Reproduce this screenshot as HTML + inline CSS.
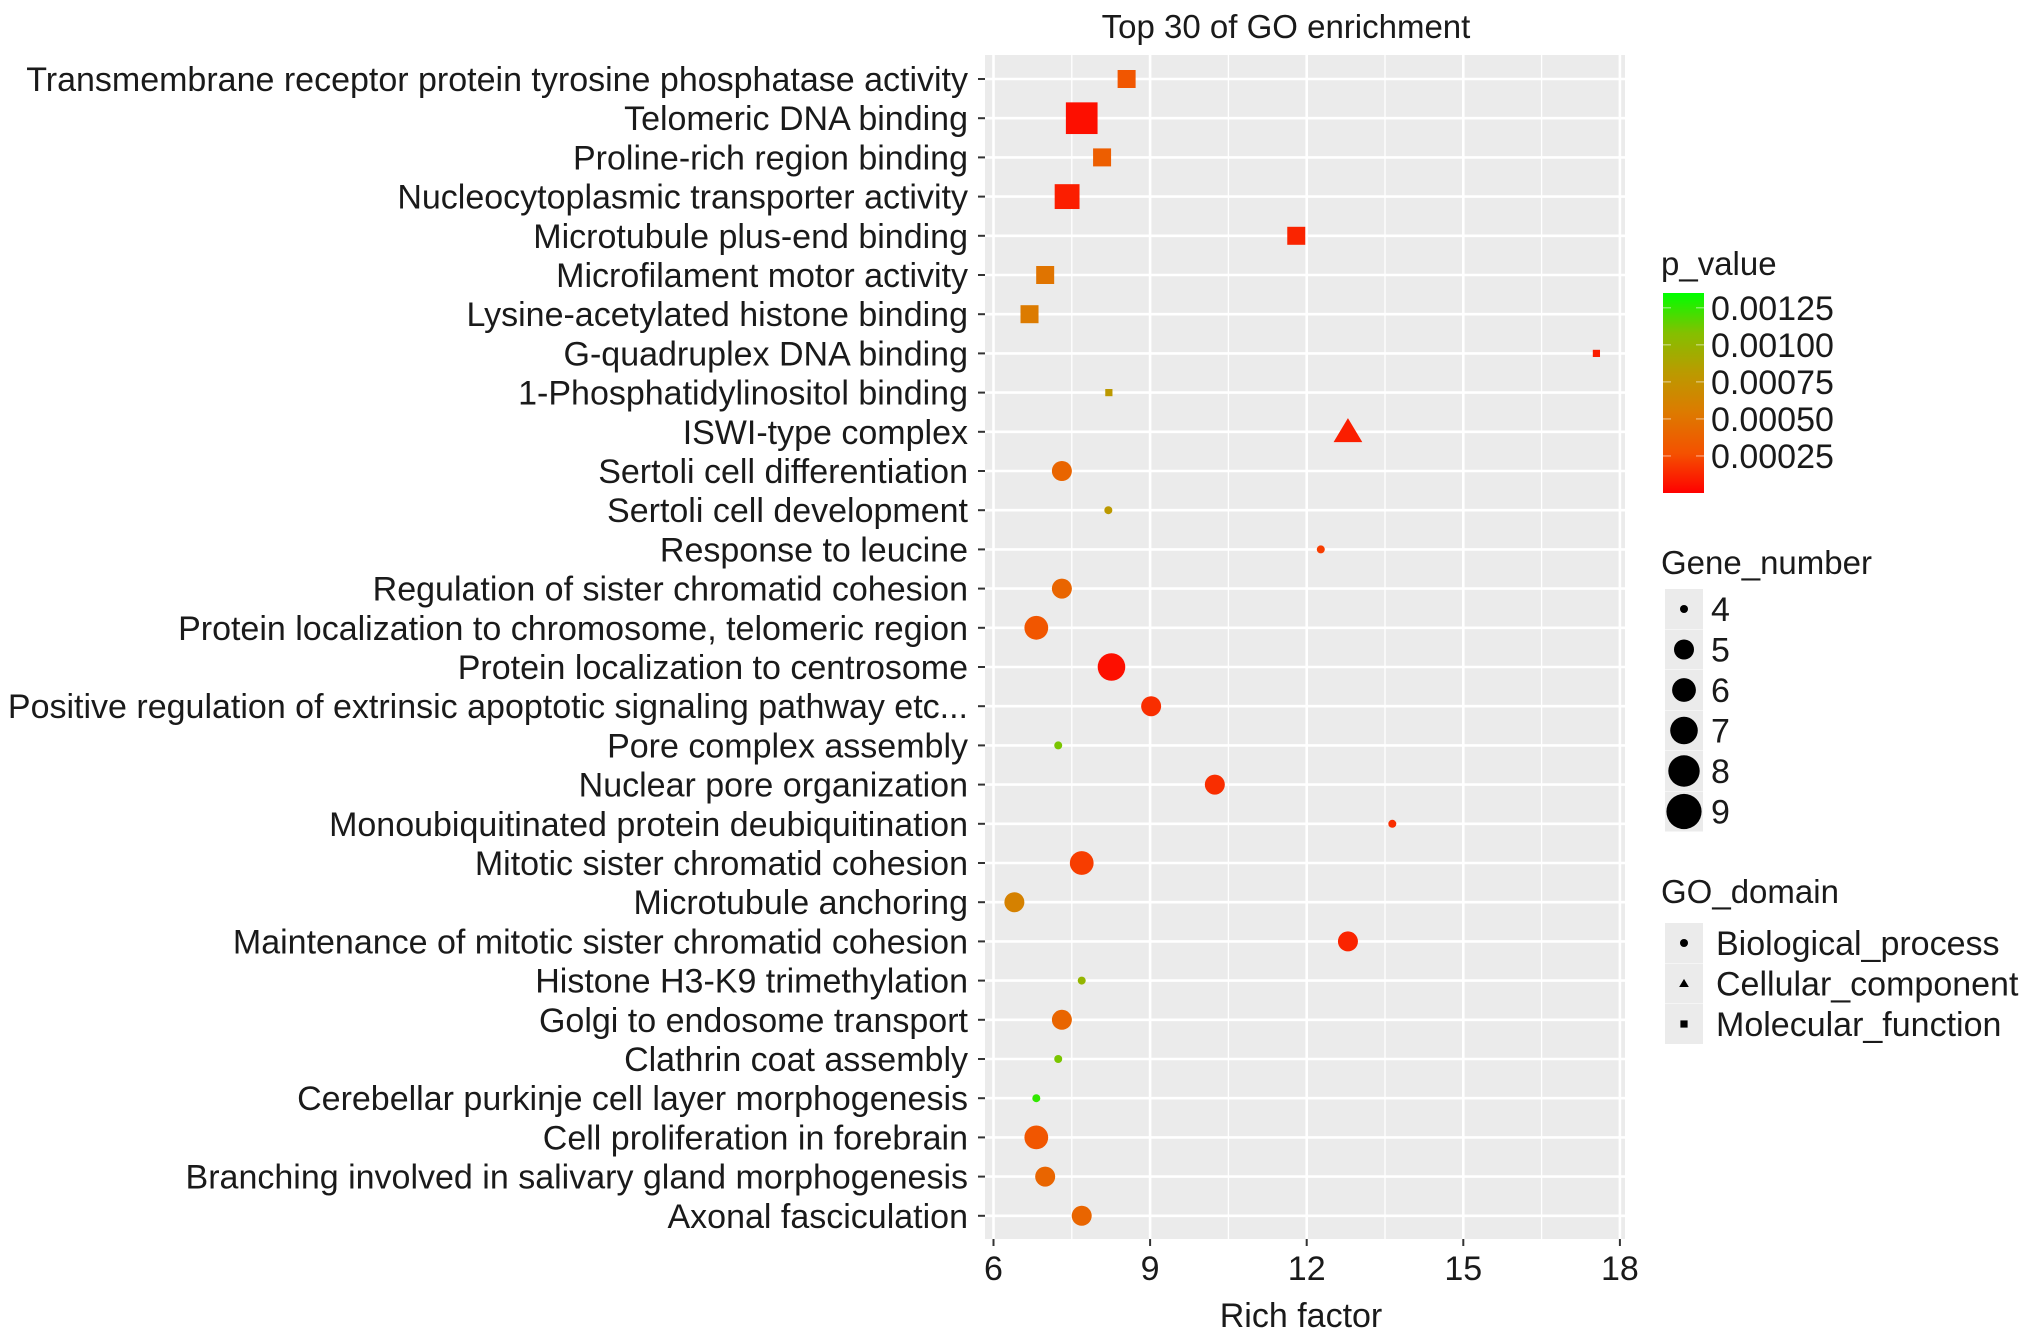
<!DOCTYPE html>
<html><head><meta charset="utf-8"><style>
html,body{margin:0;padding:0;background:#fff;}
svg{display:block;font-family:"Liberation Sans",Arial,sans-serif;}
</style></head><body>
<svg id="chart" width="2032" height="1340" viewBox="0 0 2032 1340" xmlns="http://www.w3.org/2000/svg">
<defs>
<linearGradient id="pgrad" x1="0" y1="1" x2="0" y2="0">
<stop offset="0" stop-color="#ff0000"/><stop offset="0.2" stop-color="#f45200"/><stop offset="0.4" stop-color="#dd7a00"/><stop offset="0.6" stop-color="#bb9a00"/><stop offset="0.8" stop-color="#84c000"/><stop offset="1" stop-color="#00ff00"/>
</linearGradient>
</defs>
<text x="1286" y="38" font-size="33" text-anchor="middle" fill="#1a1a1a">Top 30 of GO enrichment</text>
<rect x="985" y="55" width="640" height="1184" fill="#ebebeb"/>
<g id="grid"></g>
<g id="ylabels"></g>
<g id="xaxis"></g>
<g id="points"></g>
<text x="1301" y="1327" font-size="34" text-anchor="middle" fill="#1a1a1a">Rich factor</text>
<g id="legend"></g>
</svg>
<script>
const terms = ["Transmembrane receptor protein tyrosine phosphatase activity","Telomeric DNA binding","Proline-rich region binding","Nucleocytoplasmic transporter activity","Microtubule plus-end binding","Microfilament motor activity","Lysine-acetylated histone binding","G-quadruplex DNA binding","1-Phosphatidylinositol binding","ISWI-type complex","Sertoli cell differentiation","Sertoli cell development","Response to leucine","Regulation of sister chromatid cohesion","Protein localization to chromosome, telomeric region","Protein localization to centrosome","Positive regulation of extrinsic apoptotic signaling pathway etc...","Pore complex assembly","Nuclear pore organization","Monoubiquitinated protein deubiquitination","Mitotic sister chromatid cohesion","Microtubule anchoring","Maintenance of mitotic sister chromatid cohesion","Histone H3-K9 trimethylation","Golgi to endosome transport","Clathrin coat assembly","Cerebellar purkinje cell layer morphogenesis","Cell proliferation in forebrain","Branching involved in salivary gland morphogenesis","Axonal fasciculation"];
const richFactor = [8.55,7.69,8.08,7.41,11.8,6.99,6.69,17.55,8.21,12.79,7.31,8.2,12.27,7.31,6.82,8.26,9.02,7.24,10.24,13.64,7.69,6.4,12.79,7.69,7.31,7.24,6.82,6.82,6.99,7.69];
const pValue = [0.0003,0.00005,0.00035,0.0001,0.00012,0.0005,0.00055,0.0001,0.0008,0.0001,0.0004,0.0008,0.0002,0.0004,0.0003,0.00005,0.00015,0.0011,0.00015,0.00015,0.0002,0.0006,0.00012,0.001,0.0004,0.0011,0.00125,0.0003,0.0004,0.0004];
const geneNumber = [5,9,5,7,5,5,5,4,4,6,5,4,4,5,6,7,5,4,5,4,6,5,5,4,5,4,4,6,5,5];
const domain = ["MF","MF","MF","MF","MF","MF","MF","MF","MF","CC","BP","BP","BP","BP","BP","BP","BP","BP","BP","BP","BP","BP","BP","BP","BP","BP","BP","BP","BP","BP"];
const xTicks = [6,9,12,15,18];
const xMinor = [7.5,10.5,13.5,16.5];
const pTicks = [0.00125,0.001,0.00075,0.0005,0.00025];
const pTickLabels = ["0.00125","0.00100","0.00075","0.00050","0.00025"];
const sizeLegend = [4,5,6,7,8,9];
const domainLegend = ["Biological_process","Cellular_component","Molecular_function"];
const domainCodes = ["BP","CC","MF"];

const NS="http://www.w3.org/2000/svg";
function mk(tag,attrs,parent,text){const e=document.createElementNS(NS,tag);for(const k in attrs)e.setAttribute(k,attrs[k]);if(text!==undefined)e.textContent=text;parent.appendChild(e);return e;}
const xs=v=>993.5+(v-6)*52.2;
const ys=i=>79+i*39.2;
const rs=n=>n<=4?4:10+2*(n-5)*0.95;
const stops=[[0,[255,0,0]],[0.2,[244,82,0]],[0.4,[221,122,0]],[0.6,[187,154,0]],[0.8,[132,192,0]],[1,[0,255,0]]];
const pMin=0,pMax=0.00135;
function col(p){let t=Math.max(0,Math.min(1,(p-pMin)/(pMax-pMin)));for(let i=1;i<stops.length;i++){if(t<=stops[i][0]){const a=stops[i-1],b=stops[i];const f=(t-a[0])/(b[0]-a[0]);const c=a[1].map((v,k)=>Math.round(v+(b[1][k]-v)*f));return `rgb(${c.join(',')})`;}}return 'rgb(0,255,0)';}
function shape(g,code,cx,cy,r,fill){
  if(code==="MF") return mk('rect',{x:cx-r*0.9,y:cy-r*0.9,width:r*1.8,height:r*1.8,fill:fill},g);
  if(code==="CC"){const h=r*1.15;return mk('polygon',{points:`${cx},${cy-h} ${cx+h*1.05},${cy+h*0.75} ${cx-h*1.05},${cy+h*0.75}`,fill:fill},g);}
  return mk('circle',{cx:cx,cy:cy,r:r,fill:fill},g);
}
const grid=document.getElementById('grid');
xMinor.forEach(v=>{const l=mk('line',{x1:xs(v),x2:xs(v),y1:55,y2:1239,stroke:'#fff','stroke-width':1.3},grid);

});
xTicks.forEach(v=>{const l=mk('line',{x1:xs(v),x2:xs(v),y1:55,y2:1239,stroke:'#fff','stroke-width':2.6},grid);

});
terms.forEach((t,i)=>{const l=mk('line',{x1:985,x2:1625,y1:ys(i),y2:ys(i),stroke:'#fff','stroke-width':2.6},grid);

});
const yl=document.getElementById('ylabels');
terms.forEach((t,i)=>{
  const tx=mk('text',{x:968,y:ys(i)+12,'font-size':34,'text-anchor':'end',fill:'#1a1a1a'},yl,t);
  
  
  const tk=mk('line',{x1:978,x2:985,y1:ys(i),y2:ys(i),stroke:'#333','stroke-width':2},yl);
  
  
});
const xa=document.getElementById('xaxis');
xTicks.forEach(v=>{
  const tk=mk('line',{x1:xs(v),x2:xs(v),y1:1239,y2:1246,stroke:'#333','stroke-width':2},xa);
  
  
  const tx=mk('text',{x:xs(v),y:1280,'font-size':34,'text-anchor':'middle',fill:'#1a1a1a'},xa,String(v));
  
  
});
const pts=document.getElementById('points');
terms.forEach((t,i)=>{
  const s=shape(pts,domain[i],xs(richFactor[i]),ys(i),rs(geneNumber[i]),col(pValue[i]));
  
  
});
const lg=document.getElementById('legend');
let tt=mk('text',{x:1661,y:275,'font-size':33,fill:'#1a1a1a'},lg,'p_value');


const bar=mk('rect',{x:1663,y:293,width:41,height:200,fill:'url(#pgrad)'},lg);


const py=p=>493-(p-pMin)/(pMax-pMin)*200;
pTicks.forEach((p,k)=>{
  mk('line',{x1:1663,x2:1671,y1:py(p),y2:py(p),stroke:'#fff','stroke-width':1,opacity:0.6},lg);
  mk('line',{x1:1696,x2:1704,y1:py(p),y2:py(p),stroke:'#fff','stroke-width':1,opacity:0.6},lg);
  const tx=mk('text',{x:1711,y:py(p)+12,'font-size':34,fill:'#1a1a1a'},lg,pTickLabels[k]);
  
  
});
tt=mk('text',{x:1661,y:574,'font-size':33,fill:'#1a1a1a'},lg,'Gene_number');


sizeLegend.forEach((n,k)=>{
  const cy=609+k*40.5;
  mk('rect',{x:1665,y:cy-20,width:38,height:40,fill:'#ebebeb'},lg);
  const c=mk('circle',{cx:1684,cy:cy,r:rs(n),fill:'#000'},lg);
  
  
  const tx=mk('text',{x:1711,y:cy+12,'font-size':34,fill:'#1a1a1a'},lg,String(n));
  
  
});
tt=mk('text',{x:1661,y:903,'font-size':33,fill:'#1a1a1a'},lg,'GO_domain');


domainLegend.forEach((d,k)=>{
  const cy=943+k*40.5;
  mk('rect',{x:1665,y:cy-20,width:38,height:40,fill:'#ebebeb'},lg);
  const s=shape(lg,domainCodes[k],1684,cy,4,'#000');
  
  
  const tx=mk('text',{x:1716,y:cy+12,'font-size':34,fill:'#1a1a1a'},lg,d);
  
  
});
</script>
</body></html>
